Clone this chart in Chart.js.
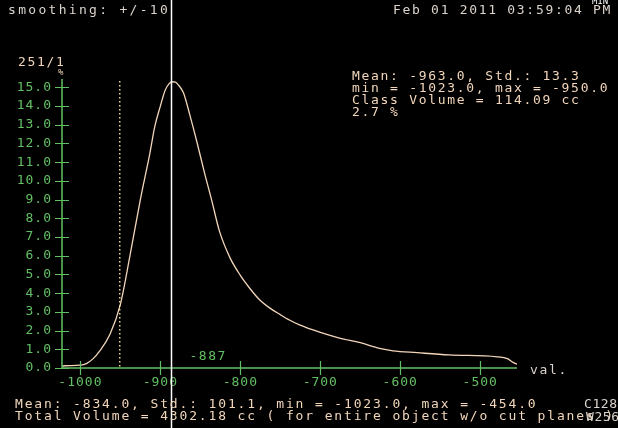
<!DOCTYPE html>
<html><head><meta charset="utf-8">
<script src="https://cdn.jsdelivr.net/npm/chart.js@4/dist/chart.umd.min.js"></script>
<style>html,body{margin:0;padding:0;background:#000;overflow:hidden}canvas{display:block}</style>
</head><body><canvas id="c" width="618" height="428"></canvas>
<script>
// ---- data ----
const huValues  = [-1023,-1019,-1000,-992,-984,-976,-963,-950,-938,-925,-913,-907,-900,-894,-889,-885,-881,-877,-871,-863,-855,-844,-836,-826,-813,-800,-788,-776,-763,-750,-738,-726,-700,-676,-650,-626,-609,-579,-539,-479,-466,-459,-454];
const pctValues = [0.10,0.12,0.15,0.25,0.50,0.90,1.80,3.40,6.00,9.00,11.5,12.9,14.0,14.85,15.2,15.3,15.28,15.1,14.7,13.5,12.2,10.3,9.0,7.3,5.9,4.95,4.25,3.65,3.2,2.85,2.55,2.3,1.9,1.6,1.35,1.05,0.92,0.82,0.70,0.60,0.50,0.30,0.20];
const xTickValues = [-1000,-900,-800,-700,-600,-500];
const yTickValues = [0,1,2,3,4,5,6,7,8,9,10,11,12,13,14,15];
const markerValue = -887;
const classMaxValue = -950;
const xMin = -1023, xMax = -454, yMax = 15.5;
const topLeftText = 'smoothing: +/-10';
const dateText = 'Feb 01 2011 03:59:04 PM';
const ratioText = '251/1';
const unitText = '%';
const classStats = ['Mean: -963.0, Std.: 13.3','min = -1023.0, max = -950.0','Class Volume = 114.09 cc','2.7 %'];
const totalStats = ['Mean: -834.0, Std.: 101.1, min = -1023.0, max = -454.0','Total Volume = 4302.18 cc ( for entire object w/o cut planes )'];
const axisLabel = 'val.';

const GREEN = '#62c062', CREAM = '#f2d6ba', GREY = '#dcd4cc';
const FONT = '"DejaVu Sans Mono", monospace';

const overlay = {
  id: 'overlay',
  beforeDraw(chart) {
    const ctx = chart.ctx;
    ctx.save();
    ctx.fillStyle = '#000';
    ctx.fillRect(0, 0, chart.width, chart.height);
    ctx.restore();
    ctx.letterSpacing = '1px';
  },
  afterDraw(chart) {
    const ctx = chart.ctx, xs = chart.scales.x, ys = chart.scales.y, a = chart.chartArea;
    ctx.save();
    // axes
    ctx.strokeStyle = GREEN; ctx.lineWidth = 1.5;
    ctx.beginPath();
    ctx.moveTo(a.left, a.top + 1); ctx.lineTo(a.left, a.bottom); ctx.lineTo(a.right, a.bottom);
    ctx.stroke();
    ctx.lineWidth = 1.2;
    ctx.beginPath();
    yTickValues.forEach(v => { const y = Math.round(ys.getPixelForValue(v)) + 0.5; ctx.moveTo(a.left - 7, y); ctx.lineTo(a.left + 7, y); });
    xTickValues.forEach(v => { const x = Math.round(xs.getPixelForValue(v)) + 0.5; ctx.moveTo(x, a.bottom - 7); ctx.lineTo(x, a.bottom + 7); });
    ctx.stroke();
    // dotted class-limit line
    ctx.fillStyle = '#e8d890';
    const dx = Math.round(xs.getPixelForValue(classMaxValue)) - 1;
    for (let y = a.top + 3; y < a.bottom - 2; y += 4) ctx.fillRect(dx, y, 1.5, 1.5);
    // marker line
    const mx = Math.round(xs.getPixelForValue(markerValue)) + 0.5;
    ctx.strokeStyle = '#ffffff'; ctx.lineWidth = 1.5;
    ctx.beginPath(); ctx.moveTo(mx, 0); ctx.lineTo(mx, chart.height); ctx.stroke();
    // texts
    ctx.textBaseline = 'middle'; ctx.textAlign = 'left';
    ctx.font = '13px ' + FONT;
    ctx.letterSpacing = '2.3px';
    ctx.fillStyle = GREY;
    ctx.fillText(topLeftText, 8, 11);
    ctx.letterSpacing = '1.7px';
    ctx.fillText(dateText, 393, 11);
    ctx.fillStyle = CREAM;
    ctx.fillText(ratioText, 18, 63);
    classStats.forEach((t, i) => ctx.fillText(t, 352, 77 + i * 12));
    ctx.letterSpacing = '1.85px';
    totalStats.forEach((t, i) => ctx.fillText(t, 15, 405 + i * 12));
    ctx.letterSpacing = '1.7px';
    ctx.fillStyle = GREY;
    ctx.fillText(axisLabel, 530, 371);
    ctx.letterSpacing = '0.6px';
    ctx.fillText('C128', 584, 405);
    ctx.fillText('W256', 586, 418);
    ctx.font = '9px ' + FONT; ctx.letterSpacing = '0px';
    ctx.fillStyle = CREAM;
    ctx.fillText(unitText, 58, 73);
    ctx.fillStyle = '#ffffff';
    ctx.fillText('MIN', 592, 2);
    ctx.font = '13px ' + FONT; ctx.letterSpacing = '1.5px';
    ctx.fillStyle = GREEN;
    ctx.fillText(String(markerValue), mx + 18, 357);
    ctx.restore();
  }
};

new Chart(document.getElementById('c'), {
  type: 'line',
  data: { datasets: [{
    data: huValues.map((x, i) => ({ x, y: pctValues[i] })),
    borderColor: CREAM, borderWidth: 1.3, pointRadius: 0,
    cubicInterpolationMode: 'monotone', fill: false
  }]},
  options: {
    responsive: false, animation: false, devicePixelRatio: 1,
    layout: { padding: { top: 78, right: 101, left: 0, bottom: 0 } },
    plugins: { legend: { display: false }, tooltip: { enabled: false } },
    scales: {
      x: {
        type: 'linear', min: xMin, max: xMax,
        afterBuildTicks: s => { s.ticks = xTickValues.map(v => ({ value: v })); },
        afterFit: s => { s.height = 60; },
        grid: { display: false, drawTicks: false }, border: { display: false },
        ticks: { color: GREEN, font: { family: FONT, size: 13 }, padding: 7, maxRotation: 0, autoSkip: false, callback: v => String(v) }
      },
      y: {
        min: 0, max: yMax,
        afterBuildTicks: s => { s.ticks = yTickValues.map(v => ({ value: v })); },
        afterFit: s => { s.width = 62; },
        grid: { display: false, drawTicks: false }, border: { display: false },
        ticks: { color: GREEN, font: { family: FONT, size: 13 }, padding: 10, autoSkip: false, callback: v => Number(v).toFixed(1) }
      }
    }
  },
  plugins: [overlay]
});
</script>
</body></html>
